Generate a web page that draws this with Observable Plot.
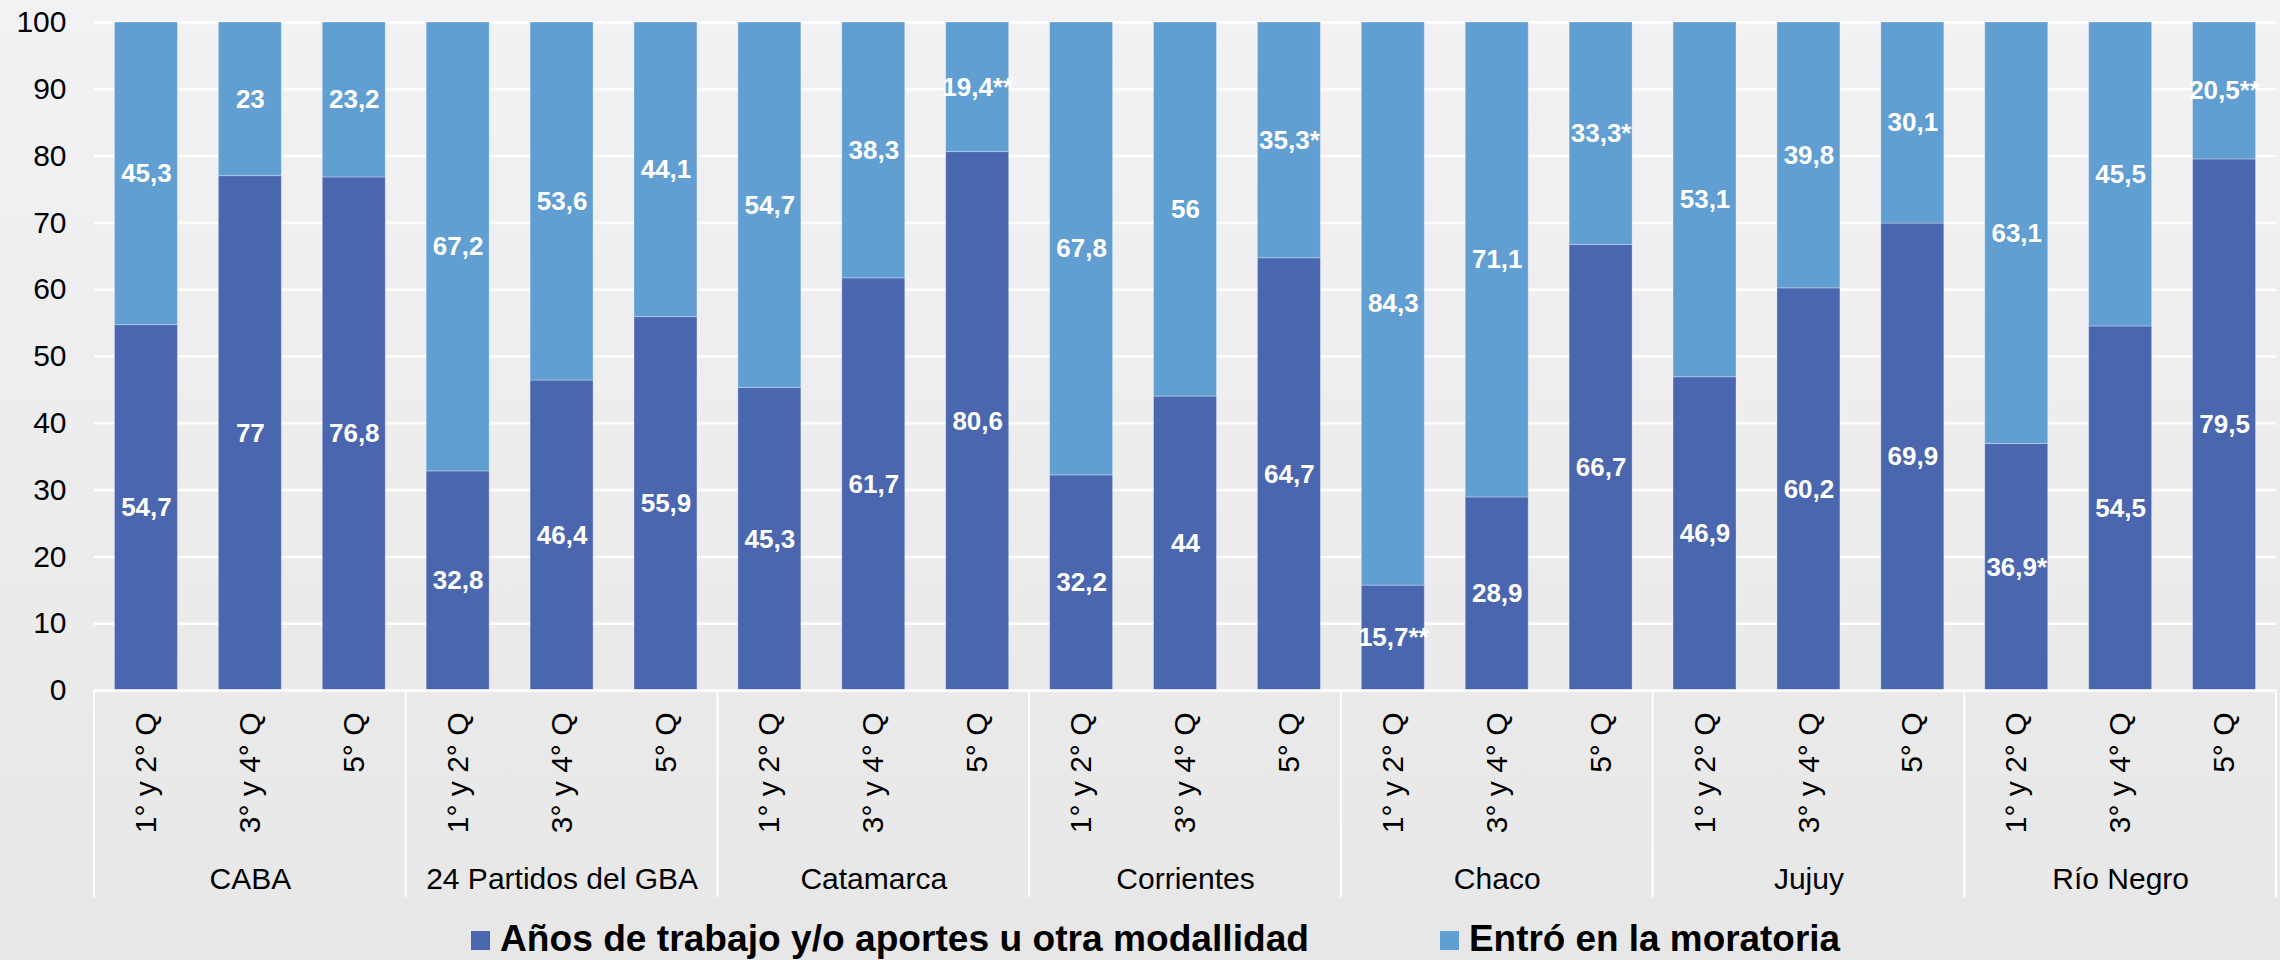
<!DOCTYPE html>
<html>
<head>
<meta charset="utf-8">
<script src="https://cdn.jsdelivr.net/npm/d3@7"></script>
<script src="https://cdn.jsdelivr.net/npm/@observablehq/plot@0.6"></script>
<style>
html, body { margin: 0; padding: 0; }
body {
  width: 2280px; height: 960px; overflow: hidden;
  background: linear-gradient(#f2f2f5, #e7e7e7);
  font-family: "Liberation Sans", Arial, sans-serif;
}
#chart svg, #legend svg { display: block; }
</style>
</head>
<body>
<div id="chart"></div>
<div id="legend"></div>
<script>
// ---- data ----
const groups = ["CABA", "24 Partidos del GBA", "Catamarca", "Corrientes", "Chaco", "Jujuy", "Río Negro"];
const quintiles = ["1° y 2° Q", "3° y 4° Q", "5° Q"];
const seriesNames = ["Años de trabajo y/o aportes u otra modallidad", "Entró en la moratoria"];
const aportes = [54.7, 77, 76.8, 32.8, 46.4, 55.9, 45.3, 61.7, 80.6, 32.2, 44, 64.7, 15.7, 28.9, 66.7, 46.9, 60.2, 69.9, 36.9, 54.5, 79.5];
const moratoria = [45.3, 23, 23.2, 67.2, 53.6, 44.1, 54.7, 38.3, 19.4, 67.8, 56, 35.3, 84.3, 71.1, 33.3, 53.1, 39.8, 30.1, 63.1, 45.5, 20.5];
const aportesNotes = ["", "", "", "", "", "", "", "", "", "", "", "", "**", "", "", "", "", "", "*", "", ""];
const moratoriaNotes = ["", "", "", "", "", "", "", "", "**", "", "", "*", "", "", "*", "", "", "", "", "", "**"];
const yTicks = [0, 10, 20, 30, 40, 50, 60, 70, 80, 90, 100];
const colors = ["#4a66ae", "#619ed2"];

// ---- table ----
const fmt = v => String(v).replace(".", ",");
const keyOf = (g, q) => g + "|" + q;
const keys = [];
const rows = [];
groups.forEach((g, gi) => quintiles.forEach((q, qi) => {
  const i = gi * quintiles.length + qi;
  const key = keyOf(g, q);
  keys.push(key);
  rows.push({key, series: seriesNames[0], value: aportes[i], label: fmt(aportes[i]) + aportesNotes[i]});
  rows.push({key, series: seriesNames[1], value: moratoria[i], label: fmt(moratoria[i]) + moratoriaNotes[i]});
}));

const FONT = '"Liberation Sans", Arial, sans-serif';

const separators = (index, scales) => {
  const x = scales.x, y = scales.y;
  const bw = typeof x.bandwidth === "function" ? x.bandwidth() : x.bandwidth;
  const step = typeof x.step === "function" ? x.step() : x.step;
  const half = (step - bw) / 2;
  const xs = groups.map(g => x(keyOf(g, quintiles[0])) - half);
  xs.push(x(keyOf(groups[groups.length - 1], quintiles[quintiles.length - 1])) + bw + half);
  const y0 = y(0);
  const g = d3.create("svg:g");
  g.selectAll("line").data(xs).join("line")
    .attr("x1", d => d).attr("x2", d => d)
    .attr("y1", y0).attr("y2", y0 + 207)
    .attr("stroke", "#ffffff").attr("stroke-width", 2);
  return g.node();
};

const chart = Plot.plot({
  width: 2280,
  height: 905,
  marginTop: 22,
  marginBottom: 215,
  marginLeft: 94,
  marginRight: 4,
  style: {background: "transparent", fontFamily: FONT, color: "#000", overflow: "visible"},
  x: {domain: keys, paddingInner: 0.394, paddingOuter: 0.197, round: false, axis: null, label: null},
  y: {domain: [0, 100], axis: null, label: null},
  color: {domain: seriesNames, range: colors},
  marks: [
    Plot.gridY(yTicks.filter(d => d > 0), {stroke: "#ffffff", strokeOpacity: 1, strokeWidth: 2.5}),
    Plot.barY(rows, Plot.stackY({x: "key", y: "value", z: "series", fill: "series", stroke: "#ffffff", strokeOpacity: 0.3, strokeWidth: 1})),
    Plot.ruleY([0], {stroke: "#ffffff", strokeWidth: 2.5}),
    separators,
    Plot.text(rows, Plot.stackY({x: "key", y: "value", z: "series", text: "label", fill: "#ffffff", fontSize: 26, fontWeight: "bold"})),
    Plot.axisY(yTicks, {tickSize: 0, tickPadding: 28, fontSize: 30, label: null}),
    Plot.axisX({tickRotate: -90, tickSize: 0, tickPadding: 22, fontSize: 30, label: null, tickFormat: d => d.split("|")[1]}),
    Plot.text(groups, {x: g => keyOf(g, quintiles[1]), frameAnchor: "bottom", dy: 198, lineAnchor: "bottom", fontSize: 30, fill: "#000"})
  ]
});
document.getElementById("chart").appendChild(chart);

// ---- legend ----
const legendItems = [
  {name: seriesNames[0], color: colors[0], x: 471, w: 809},
  {name: seriesNames[1], color: colors[1], x: 1440, w: 371}
];
const leg = d3.select("#legend").append("svg").attr("width", 2280).attr("height", 55);
const li = leg.selectAll("g").data(legendItems).join("g");
li.append("rect").attr("x", d => d.x).attr("y", 26).attr("width", 19).attr("height", 19).attr("fill", d => d.color);
li.append("text").attr("x", d => d.x + 29).attr("y", 46)
  .attr("textLength", d => d.w).attr("lengthAdjust", "spacingAndGlyphs")
  .style("font-family", FONT).style("font-size", "36px").style("font-weight", "bold").attr("fill", "#000")
  .text(d => d.name);
</script>
</body>
</html>
